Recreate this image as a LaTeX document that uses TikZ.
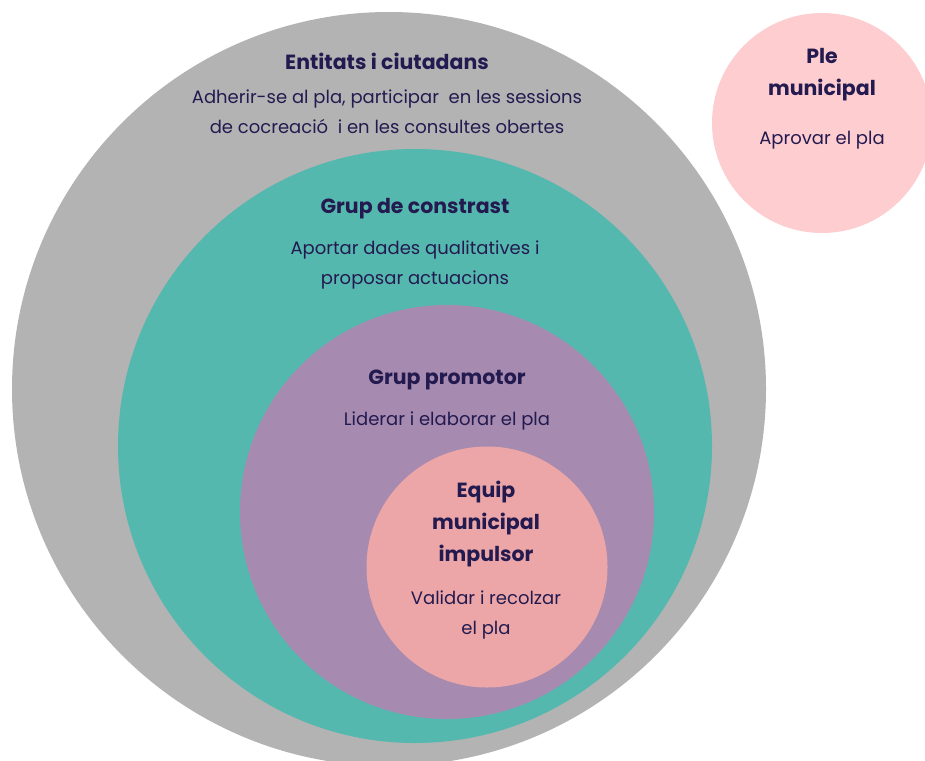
\documentclass[tikz,border=0pt]{standalone}
\usepackage{fontspec}
\setmainfont{Poppins}
\usetikzlibrary{positioning}

\definecolor{gris}{HTML}{B3B3B3}
\definecolor{turquesa}{HTML}{55B8AF}
\definecolor{lila}{HTML}{A68AAF}
\definecolor{rosa}{HTML}{ECA6A8}
\definecolor{rosaclar}{HTML}{FECDD0}
\definecolor{tinta}{HTML}{231A50}

\begin{document}
\begin{tikzpicture}[x=1pt, y=-1pt,
    cercle/.style={circle, inner sep=0pt, draw=none, minimum size=#1},
    titol/.style={font=\fontsize{20.5}{32}\selectfont\bfseries, text=tinta, align=center, inner sep=0pt},
    descripcio/.style={font=\fontsize{18}{30}\selectfont, text=tinta, align=center, inner sep=0pt}]
        \clip (0,0) rectangle (925,760);

        \node[cercle=754, fill=gris](c1) at (389,389){};
        \node[cercle=594, fill=turquesa](c2) at (415,446){};
        \node[cercle=414, fill=lila](c3) at (447,512){};
        \node[cercle=241, fill=rosa](c4) at (487,567){};
        \node[cercle=220, fill=rosaclar](c5) at (822,123){};

        \node[titol](t1) at (387,61){Entitats i ciutadans};
        \node[descripcio, below = 20pt of t1](d1){Adherir-se al pla, participar\ \ en les sessions\\de cocreació\ \ i en les consultes obertes};

        \node[titol](t2) at (415,209){Grup de constrast};
        \node[descripcio, below = 21pt of t2](d2){Aportar dades qualitatives i\\proposar actuacions};

        \node[titol](t3) at (447,380){Grup promotor};
        \node[descripcio, below = 21pt of t3](d3){Liderar i elaborar el pla};

        \node[titol](t4) at (486,524){Equip\\municipal\\impulsor};
        \node[descripcio, below = 23pt of t4](d4){Validar i recolzar\\el pla};

        \node[titol](t5) at (822,75){Ple\\municipal};
        \node[descripcio, below = 29.5pt of t5](d5){Aprovar el pla};

    \end{tikzpicture}
\end{document}
